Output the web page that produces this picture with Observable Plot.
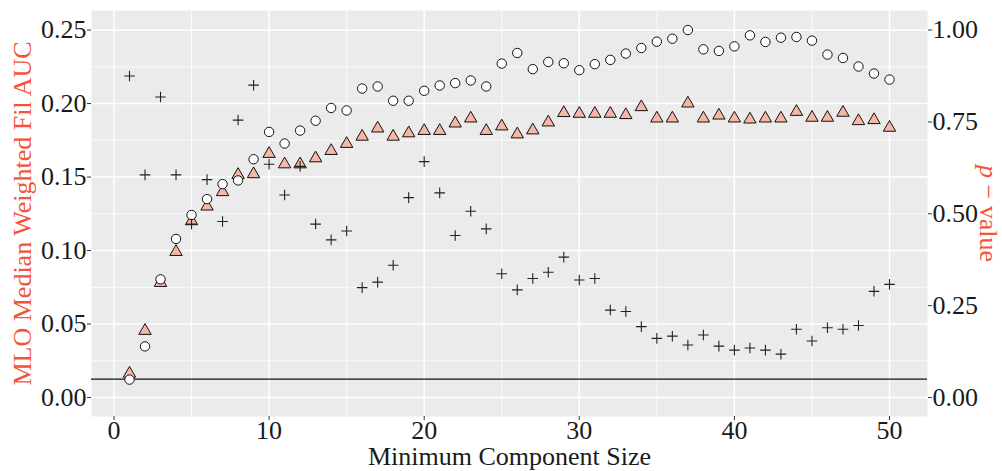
<!DOCTYPE html>
<html><head><meta charset="utf-8">
<script src="https://cdn.jsdelivr.net/npm/d3@7"></script>
<script src="https://cdn.jsdelivr.net/npm/@observablehq/plot@0.6"></script>
<style>body{margin:0;background:#fff;overflow:hidden}</style>
</head><body><div id="chart"></div>
<script>
// ---- data ----
const componentSize = [1,2,3,4,5,6,7,8,9,10,11,12,13,14,15,16,17,18,19,20,21,22,23,24,25,26,27,28,29,30,31,32,33,34,35,36,37,38,39,40,41,42,43,44,45,46,47,48,49,50];
const circleAUC = [0.0122,0.0348,0.0804,0.1079,0.1242,0.1350,0.1452,0.1477,0.1621,0.1807,
  0.1728,0.1816,0.1883,0.1970,0.1953,0.2102,0.2116,0.2019,0.2019,0.2087,
  0.2123,0.2139,0.2157,0.2116,0.2272,0.2344,0.2234,0.2283,0.2274,0.2227,
  0.2268,0.2297,0.2340,0.2378,0.2421,0.2441,0.2500,0.2369,0.2358,0.2389,
  0.2464,0.2419,0.2448,0.2453,0.2428,0.2333,0.2310,0.2252,0.2204,0.2163];
const triangleAUC = [0.0163,0.0454,0.0780,0.0991,0.1200,0.1300,0.1398,0.1515,0.1520,0.1658,
  0.1587,0.1587,0.1628,0.1678,0.1726,0.1775,0.1831,0.1775,0.1798,0.1814,
  0.1814,0.1865,0.1899,0.1814,0.1845,0.1791,0.1818,0.1872,0.1936,0.1931,
  0.1931,0.1931,0.1922,0.1976,0.1899,0.1899,0.2001,0.1899,0.1919,0.1899,
  0.1892,0.1899,0.1899,0.1944,0.1904,0.1904,0.1938,0.1881,0.1888,0.1836];
const pValue = [0.875,0.606,0.818,0.606,0.472,0.593,0.479,0.755,0.850,0.635,
  0.551,0.629,0.472,0.429,0.453,0.299,0.314,0.360,0.544,0.642,
  0.557,0.441,0.507,0.459,0.337,0.293,0.324,0.341,0.382,0.320,
  0.324,0.238,0.234,0.193,0.161,0.167,0.143,0.170,0.140,0.129,
  0.135,0.129,0.118,0.186,0.154,0.190,0.186,0.196,0.289,0.308];
const pThreshold = 0.05;

const xMajorTicks = [0,10,20,30,40,50];
const xMinorTicks = [5,15,25,35,45];
const yMajorTicks = [0,0.05,0.10,0.15,0.20,0.25];
const yMinorTicks = [0.025,0.075,0.125,0.175,0.225];
const pTicks = [0,0.25,0.5,0.75,1.0];

const xTitle = "Minimum Component Size";
const yTitle = "MLO Median Weighted Fil AUC";
const y2Title = "p − value";

// secondary axis: p-value 1.00 aligns with AUC 0.25
const P2Y = 0.25;

const rows = componentSize.map((s, i) => ({size: s, circ: circleAUC[i], tri: triangleAUC[i], p: pValue[i]}));

const accent = "#F2553A";
const ink = "#1a1a1a";

const chart = Plot.plot({
  width: 1002, height: 471,
  marginLeft: 91, marginRight: 75, marginTop: 10, marginBottom: 55,
  style: {fontFamily: "'Liberation Serif', 'Times New Roman', serif", fontSize: "26px", background: "#fff", color: ink},
  x: {domain: [-1.45, 52.45]},
  y: {domain: [-0.0129, 0.2633]},
  marks: [
    Plot.frame({fill: "#EBEBEB", stroke: null}),
    Plot.ruleY(yMinorTicks, {stroke: "#fff", strokeWidth: 0.8}),
    Plot.ruleX(xMinorTicks, {stroke: "#fff", strokeWidth: 0.8}),
    Plot.ruleY(yMajorTicks, {stroke: "#fff", strokeWidth: 1.5}),
    Plot.ruleX(xMajorTicks, {stroke: "#fff", strokeWidth: 1.5}),
    Plot.ruleY([pThreshold * P2Y], {stroke: "#111", strokeWidth: 1.2}),
    Plot.dot(rows, {x: "size", y: "tri", symbol: "triangle", r: 4.6, fill: "#F5B8A6", stroke: "#111", strokeWidth: 1}),
    Plot.dot(rows, {x: "size", y: "circ", symbol: "circle", r: 4.7, fill: "#fff", stroke: "#111", strokeWidth: 1}),
    Plot.dot(rows, {x: "size", y: d => d.p * P2Y, symbol: "plus", r: 3.5, stroke: "#222", strokeWidth: 1.1}),
    Plot.axisX({ticks: xMajorTicks, tickSize: 4, tickPadding: 0, tickFormat: d => String(d), label: null, stroke: "#333", fill: ink}),
    Plot.axisY({ticks: yMajorTicks, tickSize: 4, tickPadding: 1, tickFormat: d => d.toFixed(2), label: null, stroke: "#333", fill: ink}),
    Plot.axisY(pTicks.map(p => p * P2Y), {anchor: "right", tickSize: 4, tickPadding: 1, tickFormat: d => (d / P2Y).toFixed(2), label: null, stroke: "#333", fill: ink}),
    Plot.text([xTitle], {frameAnchor: "bottom", dy: 40, lineAnchor: "middle", textAnchor: "middle", fill: ink, fontSize: 26}),
    Plot.text([yTitle], {frameAnchor: "left", dx: -69, rotate: -90, lineAnchor: "middle", textAnchor: "middle", fill: accent, fontSize: 26}),
    Plot.text([y2Title], {frameAnchor: "right", dx: 61, rotate: 90, lineAnchor: "middle", textAnchor: "middle", fill: accent, fontSize: 26})
  ]
});

document.getElementById("chart").appendChild(chart);

// italic "p" in the secondary axis title
chart.querySelectorAll("text").forEach(t => {
  if (t.textContent === y2Title) {
    const target = t.querySelector("tspan") || t;
    target.textContent = "";
    const ns = "http://www.w3.org/2000/svg";
    const a = document.createElementNS(ns, "tspan");
    a.setAttribute("font-style", "italic");
    a.textContent = "p";
    const b = document.createElementNS(ns, "tspan");
    b.textContent = " − value";
    target.appendChild(a);
    target.appendChild(b);
  }
});
</script>
</body></html>
